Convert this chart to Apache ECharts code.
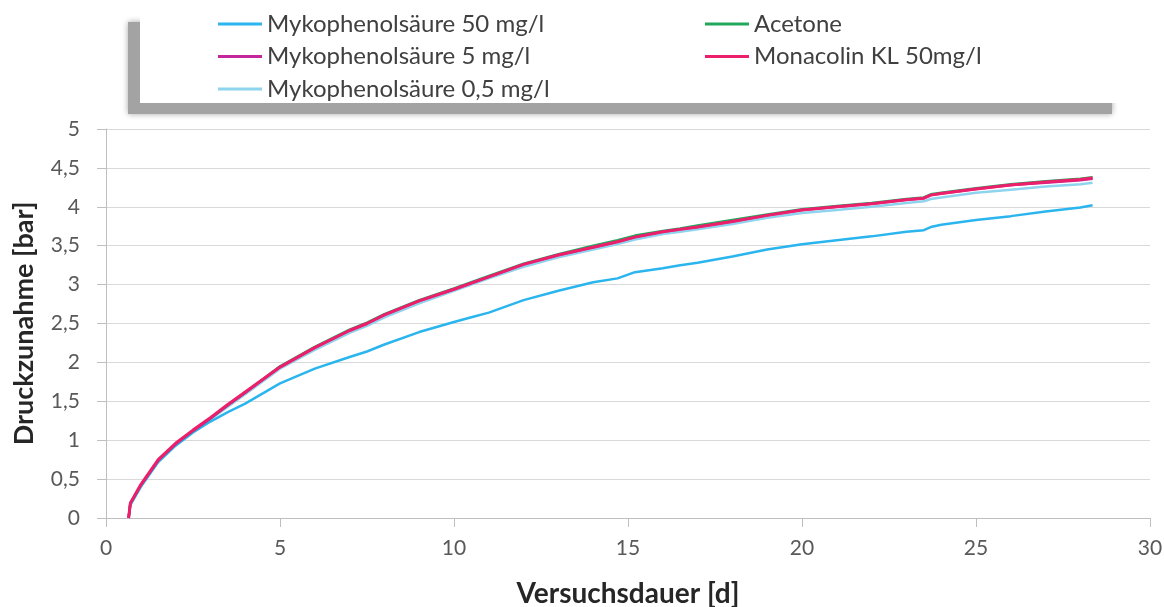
<!DOCTYPE html>
<html>
<head>
<meta charset="utf-8">
<script src="https://cdn.jsdelivr.net/npm/echarts@6/dist/echarts.min.js"></script>
<style>
html,body{margin:0;padding:0;background:#fff;}
#chart{width:1164px;height:607px;}
</style>
</head>
<body>
<div id="chart"></div>
<script>
// Days (x) shared by all series
const days = [0.65, 0.7, 1, 1.5, 2, 2.5, 3, 3.5, 4, 5, 6, 7, 7.5, 8, 9, 10, 10.5, 11, 12, 13, 14, 14.7, 15.2, 16, 16.5, 17, 18, 19, 20, 21, 22, 23, 23.5, 23.7, 24, 25, 26, 27, 28, 28.35];

const myko50 = [0, 0.17, 0.40, 0.72, 0.93, 1.10, 1.24, 1.36, 1.47, 1.73, 1.92, 2.07, 2.14, 2.23, 2.39, 2.52, 2.58, 2.64, 2.80, 2.92, 3.03, 3.08, 3.16, 3.21, 3.25, 3.28, 3.36, 3.45, 3.52, 3.57, 3.62, 3.68, 3.70, 3.74, 3.77, 3.83, 3.88, 3.94, 3.99, 4.02];
const acetone = [0, 0.19, 0.42, 0.74, 0.95, 1.12, 1.28, 1.45, 1.61, 1.95, 2.20, 2.42, 2.51, 2.62, 2.80, 2.95, 3.03, 3.11, 3.27, 3.39, 3.50, 3.57, 3.63, 3.69, 3.72, 3.76, 3.83, 3.90, 3.97, 4.01, 4.05, 4.10, 4.12, 4.16, 4.18, 4.24, 4.29, 4.33, 4.36, 4.38];
const myko5 = [0, 0.19, 0.42, 0.74, 0.95, 1.12, 1.28, 1.45, 1.61, 1.94, 2.19, 2.41, 2.50, 2.61, 2.79, 2.94, 3.02, 3.10, 3.26, 3.38, 3.48, 3.55, 3.61, 3.68, 3.71, 3.74, 3.81, 3.89, 3.96, 4.00, 4.04, 4.09, 4.11, 4.15, 4.17, 4.23, 4.28, 4.31, 4.34, 4.36];
const monacolin = [0, 0.19, 0.43, 0.75, 0.96, 1.13, 1.29, 1.46, 1.62, 1.94, 2.19, 2.41, 2.50, 2.61, 2.79, 2.94, 3.02, 3.10, 3.26, 3.38, 3.48, 3.55, 3.61, 3.68, 3.71, 3.74, 3.81, 3.89, 3.96, 4.00, 4.04, 4.09, 4.11, 4.15, 4.17, 4.23, 4.28, 4.32, 4.35, 4.37];
const myko05 = [0, 0.17, 0.41, 0.73, 0.94, 1.11, 1.27, 1.43, 1.59, 1.92, 2.16, 2.38, 2.47, 2.58, 2.76, 2.92, 3.00, 3.08, 3.23, 3.35, 3.45, 3.52, 3.58, 3.65, 3.68, 3.71, 3.78, 3.86, 3.92, 3.96, 4.00, 4.05, 4.07, 4.10, 4.12, 4.18, 4.22, 4.26, 4.29, 4.31];

const seriesNames = ['Mykophenolsäure 50 mg/l', 'Acetone', 'Mykophenolsäure 5 mg/l', 'Monacolin KL 50mg/l', 'Mykophenolsäure 0,5 mg/l'];
const xTicks = { min: 0, max: 30, interval: 5 };
const yTicks = { min: 0, max: 5, interval: 0.5 };

function pairs(ys) { return days.map((d, i) => [d, ys[i]]); }

const FONT = 'Lato';
const chart = echarts.init(document.getElementById('chart'));

function mkSeries(name, ys, color, width, z) {
  return {
    name: name, type: 'line', data: pairs(ys), symbol: 'none', smooth: false,
    lineStyle: { color: color, width: width }, itemStyle: { color: color }, z: z
  };
}

const legendText = { fontFamily: FONT, fontSize: 24, color: '#404040', lineHeight: 24 };

chart.setOption({
  animation: false,
  backgroundColor: '#ffffff',
  textStyle: { fontFamily: FONT },
  graphic: [
    { type: 'rect', shape: { x: 128, y: 22, width: 984, height: 92 }, style: { fill: '#a3a3a3', shadowBlur: 6, shadowColor: 'rgba(0,0,0,0.35)' }, z: 0 },
    { type: 'rect', shape: { x: 140, y: 0, width: 980, height: 103 }, style: { fill: '#ffffff' }, z: 1 }
  ],
  legend: [
    {
      data: [seriesNames[0], seriesNames[2], seriesNames[4]],
      orient: 'vertical', left: 213, top: 7, itemWidth: 44, itemHeight: 3, icon: 'rect', itemGap: 8.5,
      textStyle: legendText, z: 5
    },
    {
      data: [seriesNames[1], seriesNames[3]],
      orient: 'vertical', left: 700, top: 7, itemWidth: 44, itemHeight: 3, icon: 'rect', itemGap: 8.5,
      textStyle: legendText, z: 5
    }
  ],
  grid: { left: 106, right: 14, top: 129, bottom: 89, containLabel: false, outerBoundsMode: 'none' },
  xAxis: {
    type: 'value', min: xTicks.min, max: xTicks.max, interval: xTicks.interval,
    name: 'Versuchsdauer [d]', nameLocation: 'middle', nameGap: 62,
    nameTextStyle: { fontFamily: FONT, fontSize: 28, fontWeight: 'bold', color: '#262626' },
    axisLine: { show: true, lineStyle: { color: '#bfbfbf', width: 1 } },
    axisTick: { show: true, length: 9, lineStyle: { color: '#bfbfbf' } },
    axisLabel: { margin: 20, fontSize: 21, color: '#595959', fontFamily: FONT },
    splitLine: { show: false }
  },
  yAxis: {
    type: 'value', min: yTicks.min, max: yTicks.max, interval: yTicks.interval,
    name: 'Druckzunahme [bar]', nameLocation: 'middle', nameGap: 68, nameRotate: 90,
    nameTextStyle: { fontFamily: FONT, fontSize: 27, fontWeight: 'bold', color: '#262626' },
    axisLine: { show: true, lineStyle: { color: '#bfbfbf', width: 1 } },
    axisTick: { show: true, length: 9, lineStyle: { color: '#bfbfbf' } },
    axisLabel: { margin: 26, fontSize: 21, color: '#595959', fontFamily: FONT,
      formatter: v => String(v).replace('.', ',') },
    splitLine: { show: true, lineStyle: { color: '#d9d9d9', width: 1 } }
  },
  series: [
    mkSeries(seriesNames[4], myko05, '#8fd4ee', 2.5, 2),
    mkSeries(seriesNames[0], myko50, '#2bb5ee', 2.5, 3),
    mkSeries(seriesNames[1], acetone, '#22a85a', 2.5, 4),
    mkSeries(seriesNames[2], myko5, '#c4269c', 2.5, 5),
    mkSeries(seriesNames[3], monacolin, '#ec1f6b', 3, 6)
  ]
});
</script>
</body>
</html>
